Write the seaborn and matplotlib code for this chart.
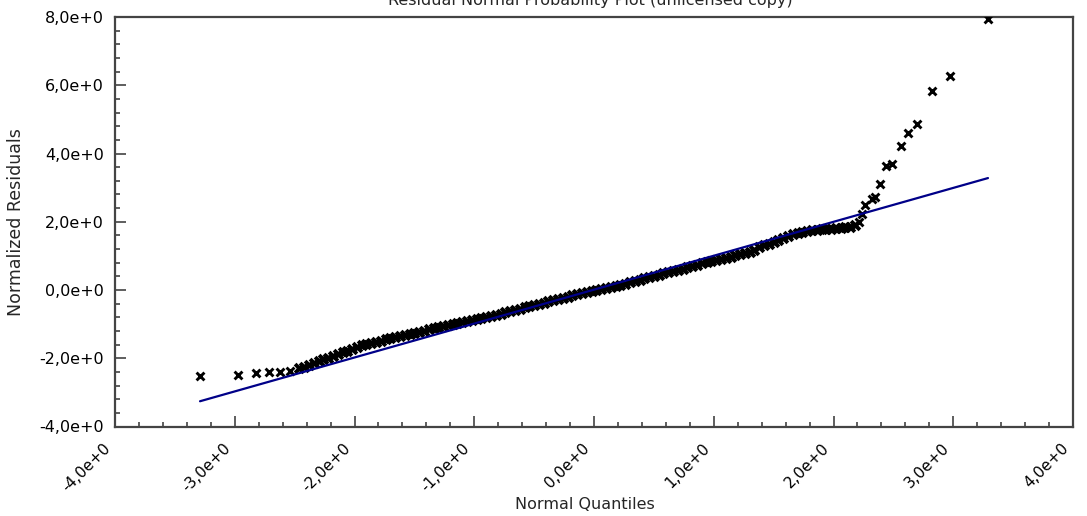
import matplotlib
matplotlib.use("Agg")
import matplotlib.pyplot as plt
import seaborn as sns
import pandas as pd
from matplotlib.ticker import MultipleLocator, FixedLocator
from matplotlib.transforms import ScaledTranslation

# ---- data ----
tail_left_x = [-3.29, -2.97, -2.82, -2.71, -2.62, -2.54]
tail_left_y = [-2.51, -2.48, -2.44, -2.39, -2.39, -2.36]

band_x = [-2.46, -2.42, -2.38, -2.34, -2.30, -2.26, -2.22, -2.18, -2.14, -2.10,
          -2.06, -2.02, -1.98, -1.94, -1.90, -1.86, -1.82, -1.78, -1.74, -1.70,
          -1.66, -1.62, -1.58, -1.54, -1.50, -1.46, -1.42, -1.38, -1.34, -1.30,
          -1.26, -1.22, -1.18, -1.14, -1.10, -1.06, -1.02, -0.98, -0.94, -0.90,
          -0.86, -0.82, -0.78, -0.74, -0.70, -0.66, -0.62, -0.58, -0.54, -0.50,
          -0.46, -0.42, -0.38, -0.34, -0.30, -0.26, -0.22, -0.18, -0.14, -0.10,
          -0.06, -0.02, 0.02, 0.06, 0.10, 0.14, 0.18, 0.22, 0.26, 0.30,
          0.34, 0.38, 0.42, 0.46, 0.50, 0.54, 0.58, 0.62, 0.66, 0.70,
          0.74, 0.78, 0.82, 0.86, 0.90, 0.94, 0.98, 1.02, 1.06, 1.10,
          1.14, 1.18, 1.22, 1.26, 1.30, 1.34, 1.38, 1.42, 1.46, 1.50,
          1.54, 1.58, 1.62, 1.66, 1.70, 1.74, 1.78, 1.82, 1.86, 1.90,
          1.94, 1.98, 2.02, 2.06, 2.10, 2.14, 2.18]
band_y = [-2.29, -2.25, -2.20, -2.14, -2.07, -2.02, -1.98, -1.93, -1.89, -1.83,
          -1.78, -1.73, -1.67, -1.62, -1.59, -1.55, -1.52, -1.48, -1.45, -1.42,
          -1.38, -1.35, -1.32, -1.29, -1.25, -1.22, -1.19, -1.15, -1.12, -1.09,
          -1.06, -1.02, -0.99, -0.96, -0.95, -0.92, -0.89, -0.86, -0.82, -0.79,
          -0.75, -0.72, -0.69, -0.65, -0.62, -0.58, -0.55, -0.51, -0.48, -0.44,
          -0.40, -0.37, -0.33, -0.30, -0.26, -0.23, -0.20, -0.16, -0.13, -0.10,
          -0.07, -0.04, -0.01, 0.02, 0.05, 0.09, 0.12, 0.16, 0.19, 0.23,
          0.26, 0.30, 0.34, 0.37, 0.42, 0.45, 0.49, 0.52, 0.56, 0.60,
          0.63, 0.67, 0.71, 0.74, 0.78, 0.82, 0.85, 0.89, 0.92, 0.95,
          0.98, 1.02, 1.05, 1.08, 1.12, 1.18, 1.25, 1.31, 1.36, 1.42,
          1.47, 1.52, 1.58, 1.63, 1.67, 1.70, 1.73, 1.75, 1.77, 1.78,
          1.79, 1.80, 1.81, 1.82, 1.84, 1.86, 1.90]

tail_right_x = [2.21, 2.24, 2.26, 2.32, 2.35, 2.39, 2.44, 2.49, 2.56, 2.62, 2.70, 2.82, 2.97, 3.29]
tail_right_y = [2.00, 2.24, 2.49, 2.68, 2.73, 3.12, 3.63, 3.70, 4.21, 4.60, 4.87, 5.83, 6.28, 7.94]

line_x = [-3.29, 3.29]
line_y = [-3.26, 3.28]

x_ticks = [-4, -3, -2, -1, 0, 1, 2, 3, 4]
x_tick_labels = ["-4,0e+0", "-3,0e+0", "-2,0e+0", "-1,0e+0", "0,0e+0",
                 "1,0e+0", "2,0e+0", "3,0e+0", "4,0e+0"]
y_ticks = [-4, -2, 0, 2, 4, 6, 8]
y_tick_labels = ["-4,0e+0", "-2,0e+0", "0,0e+0", "2,0e+0", "4,0e+0", "6,0e+0", "8,0e+0"]

title = "Residual Normal Probability Plot (unlicensed copy)"
x_label = "Normal Quantiles"
y_label = "Normalized Residuals"

# ---- plotting ----
sns.set_style("white")
plt.rcParams["font.family"] = ["DejaVu Sans"]
plt.rcParams["xtick.direction"] = "in"
plt.rcParams["ytick.direction"] = "in"
plt.rcParams["xtick.bottom"] = True
plt.rcParams["ytick.left"] = True

tails = pd.DataFrame({
    "q": tail_left_x + tail_right_x,
    "r": tail_left_y + tail_right_y,
})
band = pd.DataFrame({"q": band_x, "r": band_y})
ln = pd.DataFrame({"q": line_x, "r": line_y})

fig = plt.figure(figsize=(10.87, 5.16), dpi=100)
ax = fig.add_axes([115 / 1087, 1 - 426.5 / 516, 958 / 1087, 409.5 / 516])

# the dense middle of the reference reads as a solid band of overlapping crosses
sns.scatterplot(data=band, x="q", y="r", marker="x", color="black",
                s=40, linewidth=2.8, ax=ax, zorder=3)
sns.scatterplot(data=tails, x="q", y="r", marker="x", color="black",
                s=32, linewidth=2.1, ax=ax, zorder=3)
sns.lineplot(data=ln, x="q", y="r", color="#000088", linewidth=1.6, ax=ax, zorder=4)

ax.set_xlim(-4, 4)
ax.set_ylim(-4, 8)
ax.xaxis.set_major_locator(FixedLocator(x_ticks))
ax.yaxis.set_major_locator(FixedLocator(y_ticks))
ax.xaxis.set_minor_locator(MultipleLocator(0.2))
ax.yaxis.set_minor_locator(MultipleLocator(0.4))
ax.set_xticklabels(x_tick_labels, rotation=45, ha="right", va="top",
                   rotation_mode="anchor", fontsize=11)
ax.set_yticklabels(y_tick_labels, fontsize=11.5)

ax.tick_params(axis="both", which="both", direction="in",
               bottom=True, left=True, top=False, right=False)
ax.tick_params(axis="both", which="major", length=8, width=1.1,
               color="#333333", labelcolor="black")
ax.tick_params(axis="both", which="minor", length=3.5, width=1.1,
               color="#333333")
ax.tick_params(axis="y", which="major", pad=8)
ax.tick_params(axis="x", which="major", pad=6)

offset = ScaledTranslation(-0.12, -0.06, fig.dpi_scale_trans)
for lbl in ax.get_xticklabels():
    lbl.set_transform(lbl.get_transform() + offset)

for s in ax.spines.values():
    s.set_color("#444444")
    s.set_linewidth(1.6)
    s.set_visible(True)

ax.set_xlabel(x_label, fontsize=11.5)
ax.set_ylabel(y_label, fontsize=12.5)
ax.xaxis.set_label_coords(0.49, -0.172)
ax.yaxis.set_label_coords(-0.094, 0.5)

fig.text(590 / 1087, 1.0, title, ha="center", va="center", fontsize=11.5)

fig.savefig("out.png", dpi=100, facecolor="white")
